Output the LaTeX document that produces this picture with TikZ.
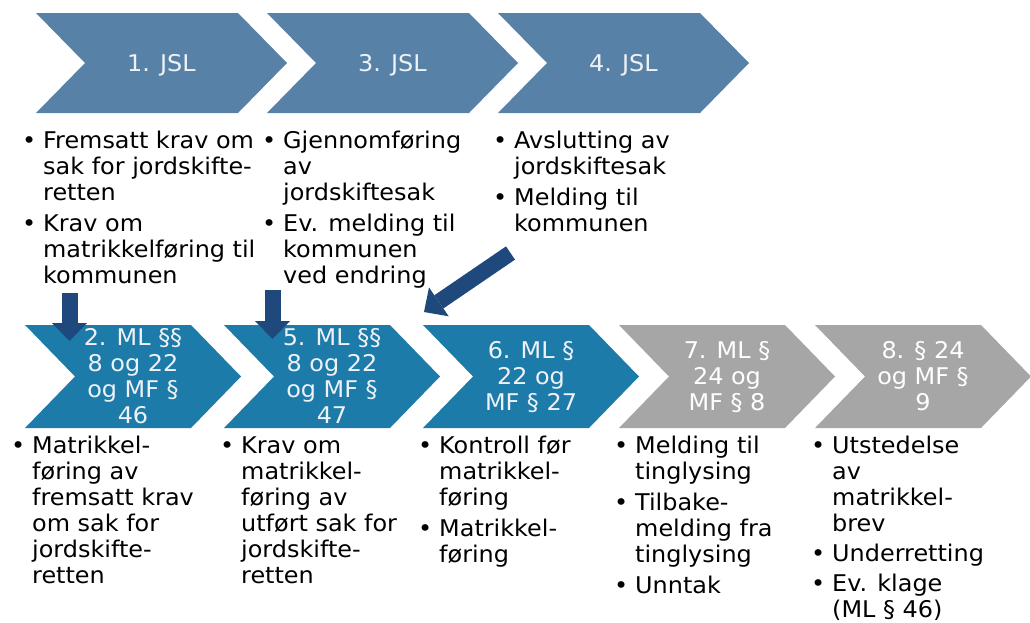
\documentclass[tikz,border=0pt]{standalone}
\usepackage{fontspec}
\setmainfont[FakeStretch=1.04]{DejaVu Sans}
\usetikzlibrary{arrows.meta}
\definecolor{topblue}{RGB}{88,129,168}
\definecolor{botblue}{RGB}{29,123,170}
\definecolor{chevgray}{RGB}{166,166,166}
\definecolor{navy}{RGB}{31,73,125}
\definecolor{labelwhite}{RGB}{238,242,246}
\newcommand{\chevpath}[6]{\fill[#6] (#1,#2) -- ({#1+#4-#5},#2) -- ({#1+#4},{#2+#3/2}) -- ({#1+#4-#5},{#2+#3}) -- (#1,{#2+#3}) -- ({#1+#5},{#2+#3/2}) -- cycle;}
\newcommand{\bl}{\llap{\textbullet\hspace{7pt}}}
\tikzset{
  basefont/.style={font=\fontsize{23}{26}\selectfont},
  listtext/.style={basefont, anchor=base west, inner sep=0pt, text=black},
  chevlabel/.style={basefont, anchor=base, inner sep=0pt, text=labelwhite},
  bigarrow/.style={draw=navy, line width=16pt, -{Triangle[width=35pt,length=18pt,line width=0pt]}}
}
\begin{document}
\begin{tikzpicture}[x=1pt,y=-1pt]
\useasboundingbox (0,0) rectangle (1030,622);
% top chevrons
\chevpath{36}{13}{100}{251}{49}{topblue}
\chevpath{267}{13}{100}{251}{49}{topblue}
\chevpath{498}{13}{100}{251}{49}{topblue}
% bottom chevrons
\chevpath{25}{325}{103}{216}{50}{botblue}
\chevpath{224}{325}{103}{216}{50}{botblue}
\chevpath{423}{325}{103}{216}{50}{botblue}
\chevpath{619}{325}{103}{216}{50}{chevgray}
\chevpath{815}{325}{103}{216}{50}{chevgray}
% top labels
\node[chevlabel] (c1) at (161.5,71) {1. JSL};
\node[chevlabel] (c3) at (392.5,71) {3. JSL};
\node[chevlabel] (c4) at (623.5,71) {4. JSL};
% bottom labels
\node[chevlabel] (c2) at (133,345) {\begin{tabular}[t]{@{}c@{}}2. ML §§\\ 8 og 22\\ og MF §\\ 46\end{tabular}};
\node[chevlabel] (c5) at (332,345) {\begin{tabular}[t]{@{}c@{}}5. ML §§\\ 8 og 22\\ og MF §\\ 47\end{tabular}};
\node[chevlabel] (c6) at (531,358) {\begin{tabular}[t]{@{}c@{}}6. ML §\\ 22 og\\ MF § 27\end{tabular}};
\node[chevlabel, text=white] (c7) at (727,358) {\begin{tabular}[t]{@{}c@{}}7. ML §\\ 24 og\\ MF § 8\end{tabular}};
\node[chevlabel, text=white] (c8) at (923,358) {\begin{tabular}[t]{@{}c@{}}8. § 24\\ og MF §\\ 9\end{tabular}};
% top lists
\node[listtext] (t1) at (43,148) {\begin{tabular}[t]{@{}l@{}}\bl Fremsatt krav om\\ sak for jordskifte-\\ retten\\[5pt] \bl Krav om\\ matrikkelføring til\\ kommunen\end{tabular}};
\node[listtext] (t3) at (283,148) {\begin{tabular}[t]{@{}l@{}}\bl Gjennomføring\\ av\\ jordskiftesak\\[5pt] \bl Ev. melding til\\ kommunen\\ ved endring\end{tabular}};
\node[listtext] (t4) at (514,148) {\begin{tabular}[t]{@{}l@{}}\bl Avslutting av\\ jordskiftesak\\[5pt] \bl Melding til\\ kommunen\end{tabular}};
% bottom lists
\node[listtext] (b2) at (32,453) {\begin{tabular}[t]{@{}l@{}}\bl Matrikkel-\\ føring av\\ fremsatt krav\\ om sak for\\ jordskifte-\\ retten\end{tabular}};
\node[listtext] (b5) at (241,453) {\begin{tabular}[t]{@{}l@{}}\bl Krav om\\ matrikkel-\\ føring av\\ utført sak for\\ jordskifte-\\ retten\end{tabular}};
\node[listtext] (b6) at (439,453) {\begin{tabular}[t]{@{}l@{}}\bl Kontroll før\\ matrikkel-\\ føring\\[5pt] \bl Matrikkel-\\ føring\end{tabular}};
\node[listtext] (b7) at (635,453) {\begin{tabular}[t]{@{}l@{}}\bl Melding til\\ tinglysing\\[5pt] \bl Tilbake-\\ melding fra\\ tinglysing\\[5pt] \bl Unntak\end{tabular}};
\node[listtext] (b8) at (832,453) {\begin{tabular}[t]{@{}l@{}}\bl Utstedelse\\ av\\ matrikkel-\\ brev\\[4pt] \bl Underretting\\[4pt] \bl Ev. klage\\ (ML § 46)\end{tabular}};
% arrows
\coordinate (a1s) at (69.5,293);
\coordinate (a1e) at (69.5,341);
\coordinate (a2s) at (272.5,290);
\coordinate (a2e) at (272.5,339);
\coordinate (a3s) at (510.5,253);
\coordinate (a3e) at (424,312);
\draw[bigarrow] (a1s) -- (a1e);
\draw[bigarrow] (a2s) -- (a2e);
\draw[bigarrow] (a3s) -- (a3e);
\end{tikzpicture}
\end{document}
